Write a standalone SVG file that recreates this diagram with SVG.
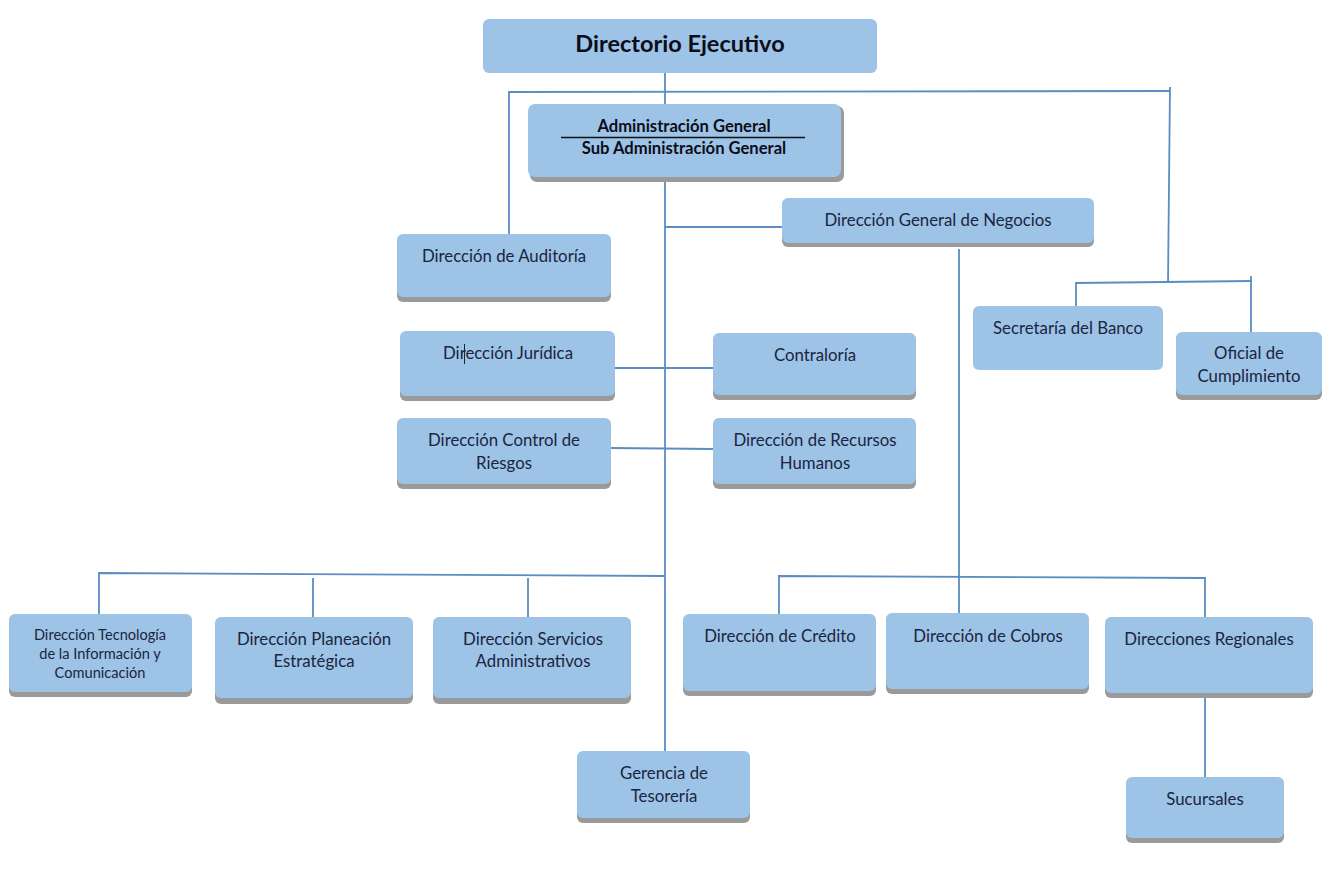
<svg xmlns="http://www.w3.org/2000/svg" width="1333" height="887" viewBox="0 0 1333 887">
<style>
.sh{fill:#9a9a9a}
.bx{fill:#9dc3e6}
.t{font-family:Lato,"Open Sans","Liberation Sans",sans-serif;font-size:16.8px;fill:#1a2540;text-anchor:middle}
.s{font-size:14.6px}
.b{font-weight:bold;font-size:16.6px;fill:#0d0d1a}
.ln{stroke:#5b8dc0;stroke-width:1.8;fill:none}
</style>
<rect width="1333" height="887" fill="#fff"/>
<g id="connectors">
<path class="ln" d="M665 73V104"/>
<path class="ln" d="M509 234V92L1170 91"/>
<path class="ln" d="M1170 87L1168 283"/>
<path class="ln" d="M1076 306V283L1252 281"/>
<path class="ln" d="M1251 276V332"/>
<path class="ln" d="M665 181V751"/>
<path class="ln" d="M665 227H782"/>
<path class="ln" d="M959 249V613"/>
<path class="ln" d="M615 368H713"/>
<path class="ln" d="M611 448L713 449"/>
<path class="ln" d="M99 614V573L665 576"/>
<path class="ln" d="M313 578V617"/>
<path class="ln" d="M528 578V617"/>
<path class="ln" d="M779 614V576L1205 578V617"/>
<path class="ln" d="M1205 697V777"/>
</g>
<g id="directorio">
<rect class="bx" x="483" y="19" width="394" height="54" rx="6"/>
<text class="t" x="680" y="52" style="font-weight:bold;font-size:23.5px;fill:#0d0d1a">Directorio Ejecutivo</text>
</g>
<g id="administracion">
<rect class="sh" x="530" y="106" width="314" height="76" rx="7"/>
<rect class="bx" x="528" y="104" width="313" height="73" rx="7"/>
<text class="t b" x="684" y="132">Administración General</text>
<path d="M561 137.5H805" stroke="#111" stroke-width="1.5"/>
<text class="t b" x="684" y="154">Sub Administración General</text>
</g>
<g id="negocios">
<rect class="sh" x="782" y="200" width="312" height="47" rx="6"/>
<rect class="bx" x="782" y="198" width="312" height="45" rx="6"/>
<text class="t" x="938" y="226">Dirección General de Negocios</text>
</g>
<g id="auditoria">
<rect class="sh" x="397" y="236" width="214" height="66" rx="6"/>
<rect class="bx" x="397" y="234" width="214" height="63" rx="6"/>
<text class="t" x="504" y="262">Dirección de Auditoría</text>
</g>
<g id="juridica">
<rect class="sh" x="400" y="333" width="215" height="68" rx="6"/>
<rect class="bx" x="400" y="331" width="215" height="65" rx="6"/>
<text class="t" x="508" y="359">Dirección Jurídica</text>
<path d="M464.5 344V364" stroke="#222" stroke-width="1"/>
</g>
<g id="contraloria">
<rect class="sh" x="713" y="335" width="203" height="65" rx="6"/>
<rect class="bx" x="713" y="333" width="203" height="62" rx="6"/>
<text class="t" x="815" y="361">Contraloría</text>
</g>
<g id="riesgos">
<rect class="sh" x="397" y="420" width="214" height="69" rx="6"/>
<rect class="bx" x="397" y="418" width="214" height="66" rx="6"/>
<text class="t" x="504" y="446">Dirección Control de</text>
<text class="t" x="504" y="469">Riesgos</text>
</g>
<g id="rrhh">
<rect class="sh" x="713" y="420" width="203" height="69" rx="6"/>
<rect class="bx" x="713" y="418" width="203" height="66" rx="6"/>
<text class="t" x="815" y="446">Dirección de Recursos</text>
<text class="t" x="815" y="469">Humanos</text>
</g>
<g id="secretaria">
<rect class="bx" x="973" y="306" width="190" height="64" rx="6"/>
<text class="t" x="1068" y="334">Secretaría del Banco</text>
</g>
<g id="oficial">
<rect class="sh" x="1176" y="334" width="146" height="66" rx="6"/>
<rect class="bx" x="1176" y="332" width="146" height="63" rx="6"/>
<text class="t" x="1249" y="359">Oficial de</text>
<text class="t" x="1249" y="382">Cumplimiento</text>
</g>
<g id="tecnologia">
<rect class="sh" x="9" y="616" width="183" height="81" rx="6"/>
<rect class="bx" x="9" y="614" width="183" height="78" rx="6"/>
<text class="t s" x="100" y="640">Dirección Tecnología</text>
<text class="t s" x="100" y="659">de la Información y</text>
<text class="t s" x="100" y="678">Comunicación</text>
</g>
<g id="planeacion">
<rect class="sh" x="215" y="619" width="198" height="85" rx="6"/>
<rect class="bx" x="215" y="617" width="198" height="81" rx="6"/>
<text class="t" x="314" y="645">Dirección Planeación</text>
<text class="t" x="314" y="667">Estratégica</text>
</g>
<g id="servicios">
<rect class="sh" x="433" y="619" width="198" height="85" rx="6"/>
<rect class="bx" x="433" y="617" width="198" height="81" rx="6"/>
<text class="t" x="533" y="645">Dirección Servicios</text>
<text class="t" x="533" y="667">Administrativos</text>
</g>
<g id="credito">
<rect class="sh" x="683" y="616" width="193" height="80" rx="6"/>
<rect class="bx" x="683" y="614" width="193" height="77" rx="6"/>
<text class="t" x="780" y="642">Dirección de Crédito</text>
</g>
<g id="cobros">
<rect class="sh" x="886" y="615" width="203" height="79" rx="6"/>
<rect class="bx" x="886" y="613" width="203" height="76" rx="6"/>
<text class="t" x="988" y="642">Dirección de Cobros</text>
</g>
<g id="regionales">
<rect class="sh" x="1105" y="619" width="208" height="79" rx="6"/>
<rect class="bx" x="1105" y="617" width="208" height="76" rx="6"/>
<text class="t" x="1209" y="645">Direcciones Regionales</text>
</g>
<g id="tesoreria">
<rect class="sh" x="577" y="753" width="173" height="70" rx="6"/>
<rect class="bx" x="577" y="751" width="173" height="67" rx="6"/>
<text class="t" x="664" y="779">Gerencia de</text>
<text class="t" x="664" y="802">Tesorería</text>
</g>
<g id="sucursales">
<rect class="sh" x="1126" y="779" width="158" height="64" rx="6"/>
<rect class="bx" x="1126" y="777" width="158" height="61" rx="6"/>
<text class="t" x="1205" y="805">Sucursales</text>
</g>
</svg>
